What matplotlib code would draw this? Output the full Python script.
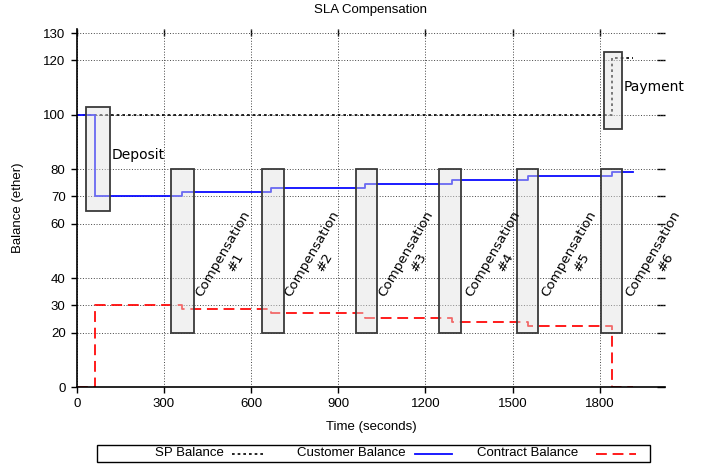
import matplotlib
matplotlib.use("Agg")
import matplotlib.pyplot as plt
from matplotlib.patches import Rectangle
from matplotlib.lines import Line2D

# ---------------- data ----------------
times = [0, 62, 362, 669, 993, 1291, 1554, 1840, 1915]
sp_balance = [100, 100, 100, 100, 100, 100, 100, 120.8, 120.8]
customer_balance = [100, 70, 71.5, 73, 74.5, 76, 77.5, 79, 79]
contract_balance = [0, 30, 28.5, 27, 25.5, 24, 22.5, 0, 0]

comp_events = [362, 669, 993, 1291, 1554, 1840]
comp_labels = ["Compensation\n#1", "Compensation\n#2", "Compensation\n#3",
               "Compensation\n#4", "Compensation\n#5", "Compensation\n#6"]

x_ticks = [0, 300, 600, 900, 1200, 1500, 1800]
y_ticks = [0, 20, 30, 40, 60, 70, 80, 100, 120, 130]

series_names = ["SP Balance", "Customer Balance", "Contract Balance"]

# annotation boxes (x0, x1, y0, y1) in data units
deposit_box = (31, 113, 64.7, 102.8)
comp_boxes = [(326, 402), (639, 712), (960, 1033), (1248, 1323), (1516, 1588), (1803, 1877)]
comp_box_y = (20, 80)
payment_box = (1814, 1876, 94.9, 123.1)

# ---------------- figure ----------------
W, H = 708, 466
fig = plt.figure(figsize=(W / 100, H / 100), dpi=100)
ax = fig.add_axes([76.7 / W, 1 - 387 / H, (665 - 76.7) / W, (387 - 29) / H])

SANS = ["Liberation Sans", "DejaVu Sans"]
FS = 9.5

sp_style = dict(color="black", lw=1.2, linestyle=(0, (1.6, 1.8)))
cu_style = dict(color="#0a0aff", lw=1.3, linestyle="-")
co_style = dict(color="#ff0a0a", lw=1.3, linestyle=(0, (6, 3.2)))

ax.step(times, sp_balance, where="post", zorder=3, **sp_style)
ax.step(times, customer_balance, where="post", zorder=3, **cu_style)
ax.step(times, contract_balance, where="post", zorder=2.5, **co_style)

box_kw = dict(facecolor=(0.88, 0.88, 0.88, 0.45), edgecolor="#3a3a3a", lw=1.3, zorder=4)
x0, x1, y0, y1 = deposit_box
ax.add_patch(Rectangle((x0, y0), x1 - x0, y1 - y0, **box_kw))
for (bx0, bx1) in comp_boxes:
    ax.add_patch(Rectangle((bx0, comp_box_y[0]), bx1 - bx0, comp_box_y[1] - comp_box_y[0], **box_kw))
x0, x1, y0, y1 = payment_box
ax.add_patch(Rectangle((x0, y0), x1 - x0, y1 - y0, **box_kw))

ax.text(121, 85.2, "Deposit", fontsize=10, family="DejaVu Sans", ha="left", va="center", zorder=5)
ax.text(1883, 110.2, "Payment", fontsize=10, family="DejaVu Sans", ha="left", va="center", zorder=5)
for ev, lab in zip(comp_events, comp_labels):
    ax.text(ev + 163, 47.5, lab, fontsize=9.6, family="DejaVu Sans", rotation=60,
            rotation_mode="anchor", ha="center", va="center", multialignment="center", zorder=5)

ax.set_xlim(0, 2024)
ax.set_ylim(0, 131.5)
ax.set_xticks(x_ticks)
ax.set_yticks(y_ticks)
ax.set_xticklabels([str(v) for v in x_ticks], family=SANS, fontsize=FS)
ax.set_yticklabels([str(v) for v in y_ticks], family=SANS, fontsize=FS)
ax.tick_params(direction="out", length=4, width=1, pad=4, colors="black")
ax.grid(True, color="#444444", lw=0.7, linestyle=(0, (1, 1.8)))
ax.set_axisbelow(True)

for side in ("top", "right"):
    ax.spines[side].set_visible(False)
for side in ("left", "bottom"):
    ax.spines[side].set_linewidth(1.2)
    ax.spines[side].set_zorder(6)

sec_x = ax.secondary_xaxis("top")
sec_x.set_xticks(x_ticks)
sec_x.tick_params(direction="in", length=5, width=1, labeltop=False)
sec_x.spines["top"].set_visible(False)
sec_y = ax.secondary_yaxis("right")
sec_y.set_yticks(y_ticks)
sec_y.tick_params(direction="in", length=6, width=1, labelright=False)
sec_y.spines["right"].set_visible(False)

ax.set_xlabel("Time (seconds)", family=SANS, fontsize=FS, labelpad=8)
ax.set_ylabel("Balance (ether)", family=SANS, fontsize=FS, labelpad=14)
fig.text(371 / W, 1 - 10 / H, "SLA Compensation", family=SANS, fontsize=FS, ha="center", va="center")

# ---------------- legend (gnuplot-style, below the plot) ----------------
def fx(px):
    return px / W

def fy(py):
    return 1 - py / H

fig.patches.append(Rectangle((fx(97), fy(462)), fx(650) - fx(97), fy(445) - fy(462),
                             transform=fig.transFigure, fill=False, edgecolor="black", lw=1.0))
leg_text_right = [224, 406, 578]
leg_sample = [(232, 266), (415, 452), (596, 636)]
styles = [sp_style, cu_style, co_style]
ly = fy(453.5)
for name, tr, (s0, s1), st in zip(series_names, leg_text_right, leg_sample, styles):
    fig.text(fx(tr), ly, name, family=SANS, fontsize=FS, ha="right", va="center")
    fig.lines.append(Line2D([fx(s0), fx(s1)], [ly, ly], transform=fig.transFigure, **st))

fig.savefig("out.png", dpi=100)
